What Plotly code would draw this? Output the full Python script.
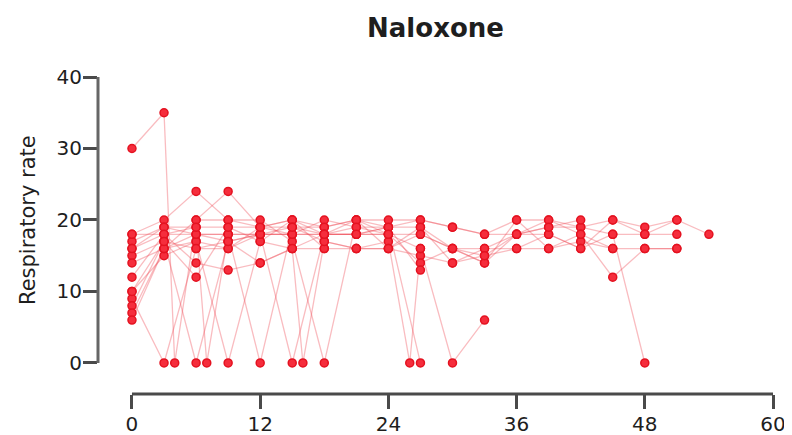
import plotly.graph_objects as go

# Respiratory rate trajectories per patient (time in h, rate in breaths/min)
p01_t = [0, 3, 4, 6, 9, 12, 15, 18, 21, 24]
p01_rr = [30, 35, 0, 20, 24, 19, 20, 19, 20, 18]
p02_t = [0, 3, 6, 9, 12, 15, 18, 21, 24, 27, 30, 33, 36, 39, 42, 45, 48, 51, 54]
p02_rr = [18, 20, 24, 20, 19, 20, 18, 20, 19, 20, 19, 18, 20, 20, 19, 20, 19, 20, 18]
p03_t = [0, 3, 6, 7, 9, 12, 15, 18, 21, 24, 27, 30, 33, 36, 39, 42, 45, 48, 51]
p03_rr = [17, 19, 19, 0, 18, 18, 18, 18, 18, 19, 19, 16, 16, 18, 19, 19, 18, 18, 18]
p04_t = [0, 3, 6, 9, 12, 15, 16, 18, 21, 24, 27, 30, 33, 36, 39, 42, 45, 48, 51]
p04_rr = [16, 18, 14, 13, 14, 16, 0, 17, 16, 16, 15, 14, 15, 16, 16, 17, 16, 16, 16]
p05_t = [0, 3, 6, 9, 12, 15, 18, 21, 24, 26, 27, 30, 33]
p05_rr = [15, 17, 12, 19, 17, 16, 16, 16, 17, 0, 16, 0, 6]
p06_t = [0, 3, 6, 9, 12, 15, 18, 21, 24, 27, 30, 33, 36, 39, 42, 45, 48]
p06_rr = [14, 16, 18, 17, 18, 18, 20, 19, 18, 14, 16, 14, 18, 18, 16, 18, 0]
p07_t = [0, 3, 6, 9, 12, 15, 18, 21, 24, 27]
p07_rr = [12, 18, 18, 18, 0, 19, 18, 18, 19, 13]
p08_t = [0, 3, 6, 9, 12, 15, 18]
p08_rr = [10, 15, 17, 0, 17, 20, 16]
p09_t = [0, 3, 6, 9, 12, 15]
p09_rr = [9, 0, 16, 16, 19, 18]
p10_t = [0, 3, 6, 9, 12, 15, 18, 21, 24, 27, 30, 33, 36, 39, 42, 45, 48, 51]
p10_rr = [8, 17, 0, 17, 18, 19, 19, 20, 16, 18, 16, 14, 20, 16, 18, 12, 16, 16]
p11_t = [0, 3, 6, 9, 12, 15, 18, 21, 24, 27]
p11_rr = [7, 16, 17, 16, 18, 0, 18, 18, 18, 16]
p12_t = [0, 3, 6, 9, 12, 15, 18, 21, 24, 27, 30, 33, 36, 39, 42, 45]
p12_rr = [6, 16, 20, 20, 20, 17, 0, 20, 20, 20, 19, 18, 18, 20, 18, 16]
p13_t = [0, 3, 6, 9, 12, 15, 18, 21, 24, 27]
p13_rr = [16, 19, 18, 18, 18, 18, 18, 19, 19, 0]
p14_t = [0, 3, 6, 9, 12, 15, 18, 21, 24, 27, 30, 33, 36, 39, 42, 45, 48, 51]
p14_rr = [18, 18, 19, 19, 19, 19, 17, 16, 16, 19, 14, 16, 16, 18, 16, 20, 18, 20]
p15_t = [0, 3, 6, 9, 12, 15, 18, 21, 24, 27, 30, 33, 36, 39, 42]
p15_rr = [10, 17, 16, 17, 14, 16, 18, 18, 18, 18, 16, 15, 18, 19, 20]

patients = [
    (p01_t, p01_rr), (p02_t, p02_rr), (p03_t, p03_rr), (p04_t, p04_rr),
    (p05_t, p05_rr), (p06_t, p06_rr), (p07_t, p07_rr), (p08_t, p08_rr),
    (p09_t, p09_rr), (p10_t, p10_rr), (p11_t, p11_rr), (p12_t, p12_rr),
    (p13_t, p13_rr), (p14_t, p14_rr), (p15_t, p15_rr),
]

x_ticks = [0, 12, 24, 36, 48, 60]
y_ticks = [0, 10, 20, 30, 40]
x_range = [-3.18, 60]
y_range = [-4.34, 40]

fig = go.Figure()
for t, rr in patients:
    fig.add_trace(go.Scatter(
        x=t, y=rr, mode="lines",
        line=dict(color="rgba(238,80,90,0.38)", width=1.3),
        showlegend=False, hoverinfo="skip"))
for t, rr in patients:
    fig.add_trace(go.Scatter(
        x=t, y=rr, mode="markers",
        marker=dict(color="rgb(245,45,60)", size=8,
                    line=dict(color="rgb(228,18,32)", width=1.5)),
        showlegend=False))

font = "DejaVu Sans, Verdana, sans-serif"
txt_col = "#1e1e1e"
axis_col = "#4a4a4a"

# Prism-style offset axis lines
x0f = (x_ticks[0] - x_range[0]) / (x_range[1] - x_range[0])
y0f = (y_ticks[0] - y_range[0]) / (y_range[1] - y_range[0])
fig.add_shape(type="line", xref="paper", yref="paper", x0=x0f, x1=1, y0=0, y1=0,
              line=dict(color=axis_col, width=3))
fig.add_shape(type="line", xref="paper", yref="paper", x0=0, x1=0, y0=y0f, y1=1,
              line=dict(color="#666666", width=3))

fig.add_annotation(text="Respiratory rate", textangle=-90, xref="paper", yref="y",
                   x=0, xshift=-70, y=(y_ticks[0] + y_ticks[-1]) / 2,
                   xanchor="center", yanchor="middle", showarrow=False,
                   font=dict(family=font, size=21, color=txt_col))

fig.update_layout(
    width=784, height=427,
    margin=dict(l=90, r=19, t=69, b=41, autoexpand=False),
    paper_bgcolor="white", plot_bgcolor="white",
    title=dict(text="<b>Naloxone</b>", x=0.5, xref="paper", xanchor="center",
               y=0.953, yanchor="middle",
               font=dict(family=font, size=26, color=txt_col)),
    font=dict(family=font, color=txt_col),
    xaxis=dict(range=x_range, tickvals=x_ticks, showgrid=False, zeroline=False,
               showline=False, ticks="outside", ticklen=14, tickwidth=2.5,
               automargin=False, ticklabelstandoff=-2,
               tickcolor=axis_col, tickfont=dict(size=20, family=font, color=txt_col)),
    yaxis=dict(range=y_range, tickvals=y_ticks, showgrid=False, zeroline=False,
               showline=False, ticks="outside", ticklen=14, tickwidth=2.5,
               automargin=False, ticklabelstandoff=-3,
               tickcolor=axis_col, tickfont=dict(size=20, family=font, color=txt_col)),
)

fig.write_html("out.html")
